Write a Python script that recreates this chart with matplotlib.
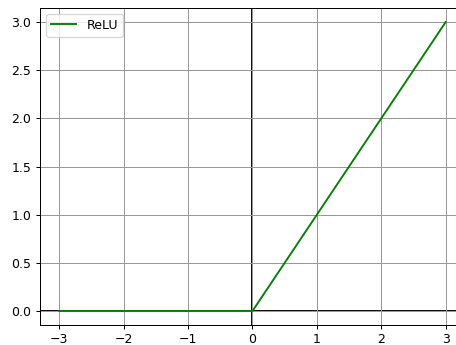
import matplotlib
matplotlib.use("Agg")
import matplotlib.pyplot as plt

# ReLU sampled at its break points
x_vals = [-3, 0, 3]
y_vals = [0, 0, 3]
x_ticks = [-3, -2, -1, 0, 1, 2, 3]
y_ticks = [0.0, 0.5, 1.0, 1.5, 2.0, 2.5, 3.0]

DPI = 90
fig = plt.figure(figsize=(456 / DPI, 345 / DPI), dpi=DPI)
ax = fig.add_axes([40 / 456, (345 - 325.4) / 345, (465 - 40) / 456, (325.4 - 7.6) / 345])

ax.axhline(0, color="black", linewidth=1.5, zorder=1)
ax.axvline(0, color="black", linewidth=1.5, zorder=1)
ax.plot(x_vals, y_vals, color="green", linewidth=1.5, label="ReLU", zorder=2)

ax.set_xticks(x_ticks)
ax.set_yticks(y_ticks)
ax.set_xlim(-3.3, 3.3)
ax.set_ylim(-0.15, 3.15)
ax.tick_params(axis="x", pad=2.5)
ax.grid(True, color="#999999", linewidth=0.8)
ax.legend(loc="upper left")

fig.savefig("out.png", dpi=DPI)
